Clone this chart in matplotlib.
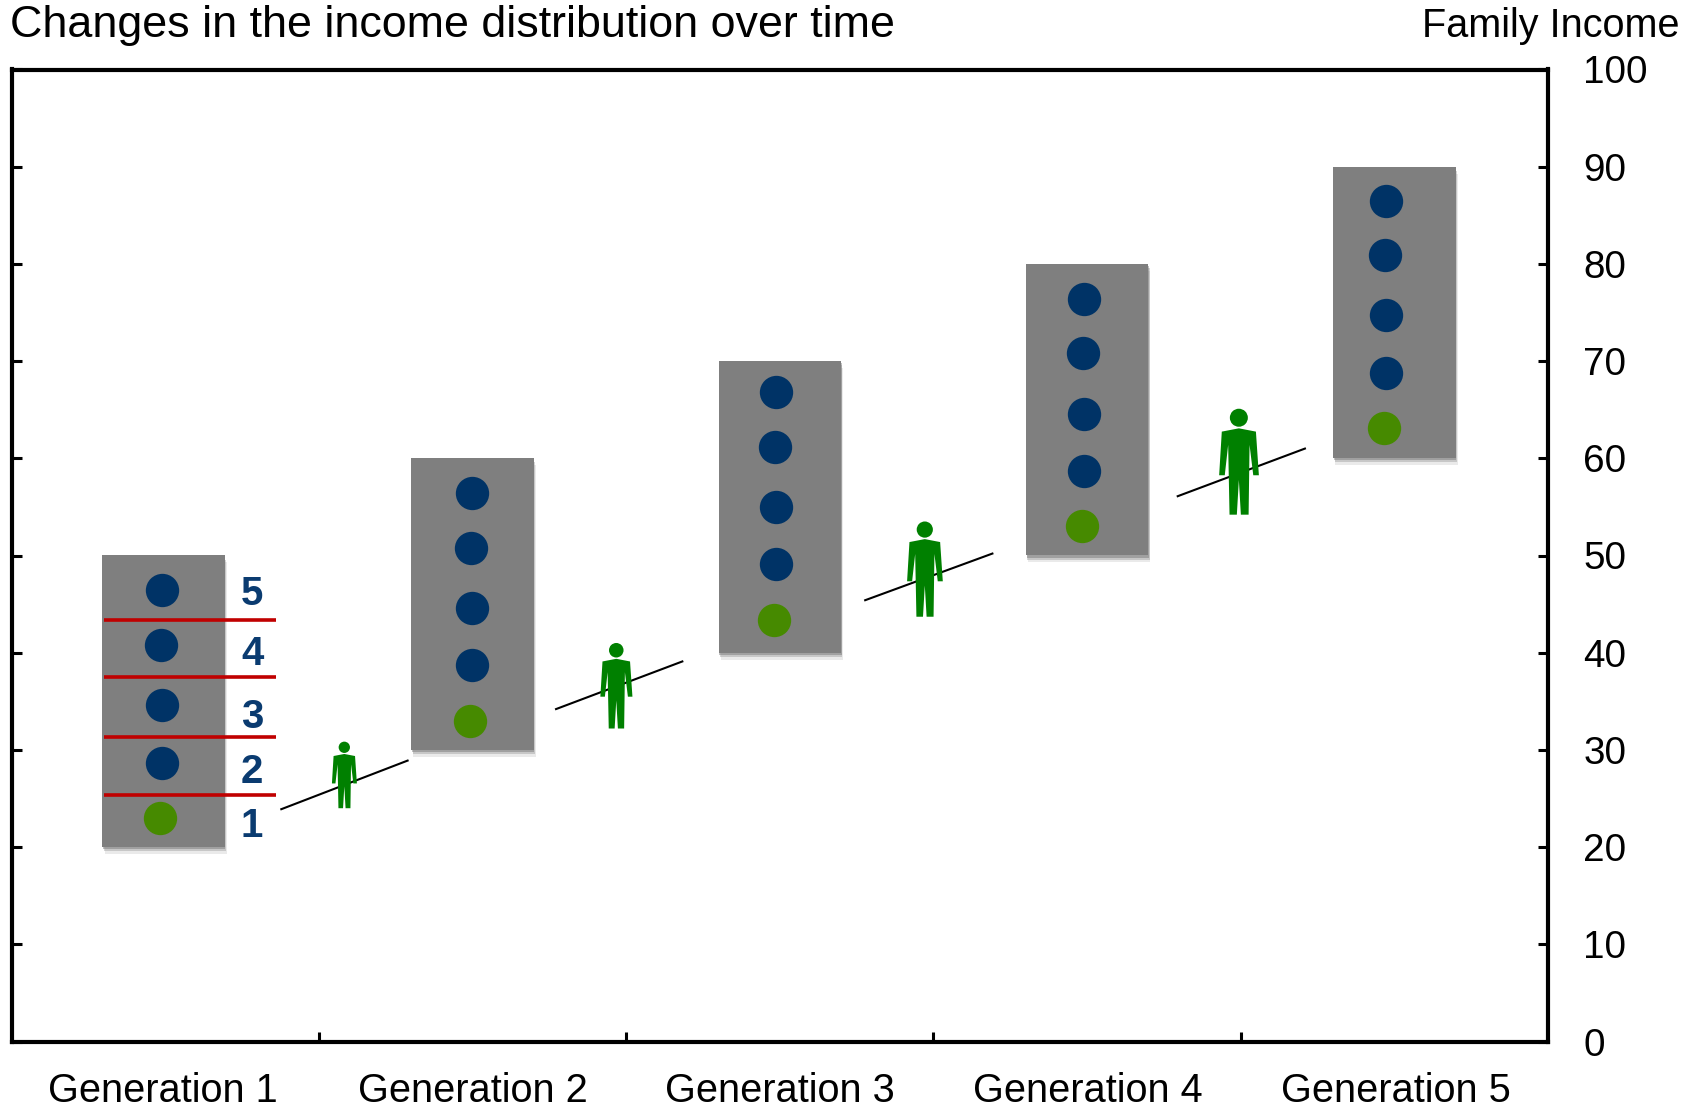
import matplotlib
matplotlib.use("Agg")
import matplotlib.pyplot as plt
import matplotlib.patheffects as pe
from matplotlib.patches import Ellipse, Polygon

plt.rcParams['font.family'] = ['Liberation Sans', 'DejaVu Sans']

generations = ["Generation 1", "Generation 2", "Generation 3", "Generation 4", "Generation 5"]
label_x = [-0.006, 1.0, 2.0, 3.003, 4.005]
yticks = [0, 10, 20, 30, 40, 50, 60, 70, 80, 90, 100]

box_x = [-0.005, 1, 2, 3, 4]
box_low = [20, 30, 40, 50, 60]
box_high = [50, 60, 70, 80, 90]

# dots per generation, top quintile first, last one is the green one
dot_y = [
    [46.4, 40.8, 34.6, 28.7, 23.0],
    [56.4, 50.8, 44.6, 38.7, 33.0],
    [66.8, 61.2, 55.0, 49.1, 43.4],
    [76.4, 70.8, 64.6, 58.7, 53.0],
    [86.5, 80.9, 74.7, 68.8, 63.1],
]
dot_x = [
    [-0.009, -0.012, -0.009, -0.009, -0.016],
    [0.998, 0.995, 0.998, 0.998, 0.991],
    [1.989, 1.986, 1.989, 1.989, 1.982],
    [2.991, 2.988, 2.991, 2.991, 2.984],
    [3.973, 3.970, 3.973, 3.973, 3.966],
]

# quintile cuts and labels, generation 1 only
cut_y = [43.4, 37.5, 31.3, 25.4]
cut_x = [-0.2, 0.36]
quintiles = ["5", "4", "3", "2", "1"]
quintile_y = [46.0, 39.9, 33.4, 27.7, 22.2]
quintile_x = 0.283

# black slope lines between generations
slope_x0 = [0.378, 1.272, 2.278, 3.295]
slope_x1 = [0.789, 1.683, 2.692, 3.709]
slope_y0 = [23.9, 34.2, 45.4, 56.1]
slope_y1 = [28.9, 39.1, 50.2, 61.0]

# people standing on the lines
person_x = [0.583, 1.468, 2.472, 3.494]
person_foot = [24.0, 32.2, 43.7, 54.2]
person_height = [6.85, 8.8, 9.8, 10.9]

# icon outline, height 1, centred on 0, units of icon height
body = [(0, .815), (.161, .784), (.189, .372), (.136, .372), (.101, .659), (.092, 0),
        (.019, 0), (0, .328), (-.019, 0), (-.088, 0), (-.101, .659), (-.133, .372),
        (-.186, .372), (-.161, .784)]

fig = plt.figure(figsize=(17, 11.05), dpi=100)
ax = fig.add_axes([11.5 / 1700, 1 - 1041.5 / 1105, (1548 - 11.5) / 1700, (1041.5 - 69.5) / 1105])

ax.set_xlim(-0.5, 4.5)
ax.set_ylim(0, 100)

bars = ax.bar(box_x, [h - l for h, l in zip(box_high, box_low)],
              bottom=box_low, width=0.398, color="#7F7F7F", linewidth=0, zorder=2)
for b in bars:
    b.set_path_effects([pe.SimplePatchShadow(offset=(1.5, -5), shadow_rgbFace="#999999", alpha=0.2),
                        pe.SimplePatchShadow(offset=(1, -3), shadow_rgbFace="#777777", alpha=0.3),
                        pe.SimplePatchShadow(offset=(0.5, -1.5), shadow_rgbFace="#666666", alpha=0.4),
                        pe.Normal()])

for y in cut_y:
    ax.plot(cut_x, [y, y], color="#C00000", lw=2.6, solid_capstyle="butt", zorder=3)

for xs, ys in zip(dot_x, dot_y):
    ax.plot(xs[:4], ys[:4], "o", color="#003366", ms=24, mew=0, zorder=4)
    ax.plot(xs[4:], ys[4:], "o", color="#468A00", ms=24, mew=0, zorder=4)

for lab, y in zip(quintiles, quintile_y):
    ax.text(quintile_x, y, lab, color="#0A3B70", fontsize=29, fontweight="bold",
            ha="center", va="center", zorder=5)

for i in range(4):
    ax.plot([slope_x0[i], slope_x1[i]], [slope_y0[i], slope_y1[i]], color="black", lw=1.5, zorder=3)

# data units per icon-height for x, so the icon keeps its proportions
x_per_y = (972 / 100) / (1536.5 / 5)
for cx, foot, h in zip(person_x, person_foot, person_height):
    pts = [(cx + px * h * x_per_y, foot + py * h) for px, py in body]
    ax.add_patch(Polygon(pts, closed=True, color="#008000", lw=0, zorder=4))
    ax.add_patch(Ellipse((cx, foot + .915 * h), .17 * h * x_per_y, .17 * h, color="#008000", lw=0, zorder=4))

for s in ax.spines.values():
    s.set_linewidth(3.0)

ax.set_yticks(yticks)
ax.set_yticklabels([str(t) for t in yticks])
ax.tick_params(axis="y", direction="in", length=7.5, width=2.2, left=True, right=True,
               labelleft=False, labelright=True, labelsize=27.8, pad=25.5)
ax.set_xticks([0.5, 1.5, 2.5, 3.5])
ax.set_xticklabels([])
ax.tick_params(axis="x", direction="in", length=7.5, width=2.2)

for x, g in zip(label_x, generations):
    ax.text(x, -5.1, g, fontsize=28.6, ha="center", va="center")

fig.text(10 / 1700, 1 - 26 / 1105, "Changes in the income distribution over time", fontsize=32.3,
         ha="left", va="center")
fig.text(1680 / 1700, 1 - 26 / 1105, "Family Income", fontsize=28.5, ha="right", va="center")

fig.savefig("out.png", dpi=100)
